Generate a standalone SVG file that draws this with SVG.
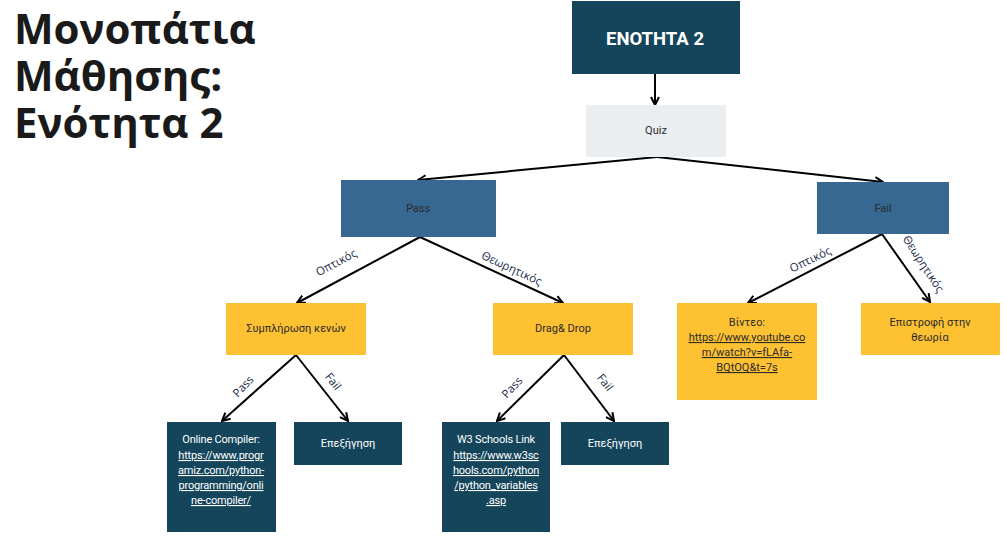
<svg xmlns="http://www.w3.org/2000/svg" width="1004" height="549" viewBox="0 0 1004 549">
<style>
.t{font-family:"Open Sans","Noto Sans",sans-serif;font-weight:700;font-size:42px;fill:#1a1a1a}
.n{font-family:Roboto,"Liberation Sans",sans-serif;font-size:11px;text-anchor:middle}
.w{fill:#ffffff}
.d{fill:#2b2b2b}
.b{font-weight:700}
.u{text-decoration:underline}
.lab{font-family:"Open Sans","Noto Sans",sans-serif;font-size:11.5px;fill:#1a2a4a;text-anchor:middle}
.dark{fill:#15455b}
.mid{fill:#376891}
.yel{fill:#fec132}
.c{stroke:#000;stroke-width:2;fill:none;marker-end:url(#ah)}
</style>
<defs>
<marker id="ah" viewBox="0 0 10 10" refX="9" refY="5" markerWidth="5" markerHeight="5" orient="auto"><path d="M1,1 L9,5 L1,9" fill="none" stroke="#000" stroke-width="2"/></marker>
</defs>
<rect width="1004" height="549" fill="#ffffff"/>
<g id="title">
<text class="t" x="14" y="44">Μονοπάτια</text>
<text class="t" x="14" y="91">Μάθησης:</text>
<text class="t" x="14" y="138">Ενότητα 2</text>
</g>
<g id="connectors">
<line class="c" x1="655" y1="74" x2="655" y2="105"/>
<line class="c" x1="657" y1="157" x2="418" y2="180"/>
<line class="c" x1="657" y1="157" x2="883" y2="182"/>
<line class="c" x1="420" y1="237" x2="297" y2="303"/>
<line class="c" x1="420" y1="237" x2="563" y2="303"/>
<line class="c" x1="882" y1="234" x2="748" y2="303"/>
<line class="c" x1="882" y1="234" x2="930" y2="302"/>
<line class="c" x1="296" y1="355" x2="222" y2="421"/>
<line class="c" x1="296" y1="355" x2="348" y2="421"/>
<line class="c" x1="564" y1="355" x2="497" y2="421"/>
<line class="c" x1="564" y1="355" x2="614" y2="421"/>
<text class="lab" transform="translate(338,266) rotate(-28)">Οπτικός</text>
<text class="lab" transform="translate(510,272) rotate(25)">Θεωρητικός</text>
<text class="lab" transform="translate(812,263) rotate(-26)">Οπτικός</text>
<text class="lab" transform="translate(920,266) rotate(57)">Θεωρητικός</text>
<text class="lab" transform="translate(246,389) rotate(-47)">Pass</text>
<text class="lab" transform="translate(330,384) rotate(52)">Fail</text>
<text class="lab" transform="translate(515,390) rotate(-47)">Pass</text>
<text class="lab" transform="translate(602,385) rotate(52)">Fail</text>
</g>
<g id="enotita">
<rect class="dark" x="572" y="1" width="168" height="73"/>
<text class="n w b" x="655" y="45" style="font-size:18.5px">ENOTHTA 2</text>
</g>
<g id="quiz">
<rect fill="#ebeef1" x="586" y="105" width="140" height="52"/>
<text class="n d" x="656" y="134">Quiz</text>
</g>
<g id="pass">
<rect class="mid" x="341" y="180" width="155" height="57"/>
<text class="n d" x="418" y="212">Pass</text>
</g>
<g id="fail">
<rect class="mid" x="817" y="182" width="132" height="52"/>
<text class="n d" x="883" y="212">Fail</text>
</g>
<g id="fill-blanks">
<rect class="yel" x="226" y="303" width="140" height="52"/>
<text class="n d" x="296" y="332">Συμπλήρωση κενών</text>
</g>
<g id="dragdrop">
<rect class="yel" x="493" y="303" width="140" height="52"/>
<text class="n d" x="563" y="332">Drag&amp; Drop</text>
</g>
<g id="video">
<rect class="yel" x="677" y="303" width="140" height="97"/>
<text class="n d" x="747" y="326">Βίντεο:</text>
<text class="n d u" x="747" y="341">https://www.youtube.co</text>
<text class="n d u" x="747" y="356">m/watch?v=fLAfa-</text>
<text class="n d u" x="747" y="371">BQtOQ&amp;t=7s</text>
</g>
<g id="return-theory">
<rect class="yel" x="861" y="303" width="139" height="52"/>
<text class="n d" x="930" y="326">Επιστροφή στην</text>
<text class="n d" x="930" y="341">θεωρία</text>
</g>
<g id="online-compiler">
<rect class="dark" x="167" y="422" width="109" height="110"/>
<text class="n w" x="221" y="443" style="letter-spacing:-0.2px">Online Compiler:</text>
<text class="n w u" x="221" y="459" style="letter-spacing:-0.2px">https://www.progr</text>
<text class="n w u" x="221" y="474" style="letter-spacing:-0.2px">amiz.com/python-</text>
<text class="n w u" x="221" y="489" style="letter-spacing:-0.2px">programming/onli</text>
<text class="n w u" x="221" y="504" style="letter-spacing:-0.2px">ne-compiler/</text>
</g>
<g id="explain1">
<rect class="dark" x="294" y="422" width="108" height="43"/>
<text class="n w" x="348" y="447">Επεξήγηση</text>
</g>
<g id="w3schools">
<rect class="dark" x="442" y="422" width="108" height="110"/>
<text class="n w" x="496" y="443" style="letter-spacing:-0.2px">W3 Schools Link</text>
<text class="n w u" x="496" y="459" style="letter-spacing:-0.2px">https://www.w3sc</text>
<text class="n w u" x="496" y="474" style="letter-spacing:-0.2px">hools.com/python</text>
<text class="n w u" x="496" y="489" style="letter-spacing:-0.2px">/python_variables</text>
<text class="n w u" x="496" y="504" style="letter-spacing:-0.2px">.asp</text>
</g>
<g id="explain2">
<rect class="dark" x="561" y="422" width="108" height="43"/>
<text class="n w" x="615" y="447">Επεξήγηση</text>
</g>
</svg>
